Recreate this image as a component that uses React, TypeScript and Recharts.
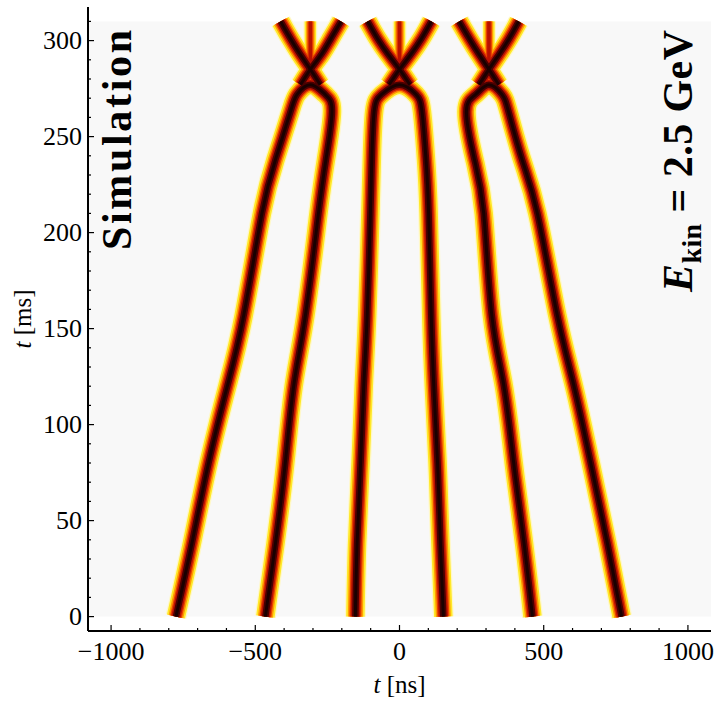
import React from "react";
import { LineChart, Line, XAxis, YAxis, ReferenceArea } from "recharts";

// t [ms] at which the bunch centres were read (bottom up to the merge)
const legT = [0, 38, 80, 120, 157, 210, 238, 263, 272, 277];

// bunch centres t [ns] at those times
const bunch1 = [-775, -720, -662, -597, -540, -477, -430, -378, -355, -309];
const bunch2 = [-465, -430, -396, -367, -326, -281, -255, -234, -258, -309];
const bunch3 = [-153, -147, -135, -124, -112, -101, -96, -88, -62, 0];
const bunch4 = [152, 142, 132, 119, 110, 101, 92, 78, 57, 0];
const bunch5 = [461, 432, 396, 362, 320, 292, 260, 232, 264, 310];
const bunch6 = [770, 721, 663, 605, 547, 478, 425, 378, 355, 310];

// after the merge: the crossing and the arms going up
const crossT = [310, 301, 293, 285, 277];
const arm1a = [-412, -378, -345, -309, -275];
const arm1b = [-203, -238, -270, -309, -343];
const arm2a = [-110, -76, -40, 0, 36];
const arm2b = [110, 76, 40, 0, -36];
const arm3a = [207, 242, 275, 310, 344];
const arm3b = [413, 380, 346, 310, 276];
const midT = [310, 285];
const midX = [-309, 0, 310];

const xMajor = [-1000, -500, 0, 500, 1000];
const yMajor = [0, 50, 100, 150, 200, 250, 300];
const xMinor = Array.from({ length: 21 }, (_, i) => -1000 + i * 100);
const yMinor = Array.from({ length: 32 }, (_, i) => i * 10);

const FONT = "'Liberation Serif', 'Times New Roman', serif";

const toPoints = (xs: number[], ts: number[]) => xs.map((x, i) => ({ x, t: ts[i] }));
const arch = (a: number[], b: number[]) => [
    ...toPoints(a, legT),
    ...toPoints(b, legT).reverse().slice(1),
];

const mainPaths = [
    arch(bunch1, bunch2),
    arch(bunch3, bunch4),
    arch(bunch5, bunch6),
    toPoints(arm1a, crossT),
    toPoints(arm1b, crossT),
    toPoints(arm2a, crossT),
    toPoints(arm2b, crossT),
    toPoints(arm3a, crossT),
    toPoints(arm3b, crossT),
];
const midPaths = midX.map((x) => toPoints([x, x], midT));

const mainLayers = [
    { color: "#fff8c8", width: 21 },
    { color: "#ffe828", width: 18.5 },
    { color: "#ff9a00", width: 15 },
    { color: "#e84000", width: 12 },
    { color: "#b81000", width: 9.5 },
    { color: "#4a0000", width: 6.5 },
    { color: "#1a0000", width: 3 },
];
const midLayers = [
    { color: "#fff8c8", width: 14 },
    { color: "#ffe828", width: 11.5 },
    { color: "#ff9a00", width: 8.5 },
    { color: "#e84000", width: 6 },
    { color: "#b81000", width: 3.5 },
];

const fmt = (v: number) => (v < 0 ? `\u2212${Math.abs(v)}` : `${v}`);

const AxisTick = (props: any) => {
    const { x, y, payload, side, majors, labelled } = props;
    const major = majors.includes(payload.value);
    const len = major ? 6 : 3;
    let line;
    if (side === "bottom") line = { x1: x, y1: y, x2: x, y2: y - len };
    else if (side === "top") line = { x1: x, y1: y, x2: x, y2: y + len };
    else if (side === "left") line = { x1: x, y1: y, x2: x + len, y2: y };
    else line = { x1: x, y1: y, x2: x - len, y2: y };
    const textStyle = { fontFamily: FONT, fontSize: 26 };
    return (
        <g>
            <line {...line} stroke="#000" strokeWidth={1.2} />
            {labelled && major && side === "bottom" && (
                <text x={x} y={y + 29} textAnchor="middle" style={textStyle} fill="#000">
                    {fmt(payload.value)}
                </text>
            )}
            {labelled && major && side === "left" && (
                <text x={x - 6} y={y + 8} textAnchor="end" style={textStyle} fill="#000">
                    {fmt(payload.value)}
                </text>
            )}
        </g>
    );
};

const XTitle = (props: any) => {
    const { x, y, width } = props.viewBox;
    return (
        <text
            x={x + width / 2}
            y={y + 62}
            textAnchor="middle"
            style={{ fontFamily: FONT, fontSize: 25 }}
            fill="#000"
        >
            <tspan fontStyle="italic">t</tspan> [ns]
        </text>
    );
};

const YTitle = (props: any) => {
    const { y, height } = props.viewBox;
    return (
        <text
            transform={`translate(31, ${y + height / 2}) rotate(-90)`}
            textAnchor="middle"
            style={{ fontFamily: FONT, fontSize: 25 }}
            fill="#000"
        >
            <tspan fontStyle="italic">t</tspan> [ms]
        </text>
    );
};

const axisLine = { stroke: "#000", strokeWidth: 2 };

const App = () => {
    const lines: React.ReactNode[] = [];
    mainLayers.forEach((layer, li) => {
        if (li < midLayers.length) {
            midPaths.forEach((pts, pi) => (
                lines.push(
                    <Line
                        key={`m${li}-${pi}`}
                        data={pts}
                        dataKey="t"
                        xAxisId="x"
                        yAxisId="y"
                        type="linear"
                        stroke={midLayers[li].color}
                        strokeWidth={midLayers[li].width}
                        dot={false}
                        activeDot={false}
                        isAnimationActive={false}
                    />
                )
            ));
        }
        mainPaths.forEach((pts, pi) => (
            lines.push(
                <Line
                    key={`p${li}-${pi}`}
                    data={pts}
                    dataKey="t"
                    xAxisId="x"
                    yAxisId="y"
                    type="natural"
                    stroke={layer.color}
                    strokeWidth={layer.width}
                    strokeLinejoin="round"
                    dot={false}
                    activeDot={false}
                    isAnimationActive={false}
                />
            )
        ));
    });

    return (
        <div style={{ position: "absolute", left: 0, top: 0, width: 715, height: 701, background: "#fff" }}>
            <LineChart width={715} height={701} margin={{ top: 7, right: 4, bottom: 0, left: 8 }}>
                <XAxis
                    xAxisId="x"
                    type="number"
                    dataKey="x"
                    domain={[-1080, 1080]}
                    allowDataOverflow
                    ticks={xMinor}
                    interval={0}
                    height={70}
                    tickSize={0}
                    tickMargin={0}
                    tickLine={false}
                    axisLine={axisLine}
                    tick={<AxisTick side="bottom" majors={xMajor} labelled />}
                    label={<XTitle />}
                />
                <XAxis
                    xAxisId="top"
                    orientation="top"
                    type="number"
                    domain={[-1080, 1080]}
                    allowDataOverflow
                    ticks={xMinor}
                    interval={0}
                    height={0}
                    tickSize={0}
                    tickMargin={0}
                    tickLine={false}
                    axisLine={axisLine}
                    tick={<AxisTick side="top" majors={xMajor} />}
                />
                <YAxis
                    yAxisId="y"
                    type="number"
                    domain={[-7.5, 317.5]}
                    allowDataOverflow
                    ticks={yMinor}
                    interval={0}
                    width={80}
                    tickSize={0}
                    tickMargin={0}
                    tickLine={false}
                    axisLine={axisLine}
                    tick={<AxisTick side="left" majors={yMajor} labelled />}
                    label={<YTitle />}
                />
                <YAxis
                    yAxisId="right"
                    orientation="right"
                    type="number"
                    domain={[-7.5, 317.5]}
                    allowDataOverflow
                    ticks={yMinor}
                    interval={0}
                    width={0}
                    tickSize={0}
                    tickMargin={0}
                    tickLine={false}
                    axisLine={axisLine}
                    tick={<AxisTick side="right" majors={yMajor} />}
                />
                <ReferenceArea
                    xAxisId="x"
                    yAxisId="y"
                    x1={-1080}
                    x2={1080}
                    y1={0}
                    y2={310}
                    fill="#f8f8f8"
                    fillOpacity={1}
                    stroke="none"
                />
                {lines}
            </LineChart>
            <svg
                width={715}
                height={701}
                style={{ position: "absolute", left: 0, top: 0, pointerEvents: "none" }}
            >
                <text
                    transform="translate(131, 250) rotate(-90)"
                    style={{ fontFamily: FONT, fontWeight: "bold", fontSize: 42 }}
                    textLength={220}
                    lengthAdjust="spacing"
                    fill="#000"
                >
                    Simulation
                </text>
                <text
                    transform="translate(692, 292) rotate(-90)"
                    style={{ fontFamily: FONT, fontWeight: "bold", fontSize: 42 }}
                    textLength={262}
                    lengthAdjust="spacing"
                    fill="#000"
                >
                    <tspan fontStyle="italic">E</tspan>
                    <tspan fontSize={28} dy={9}>kin</tspan>
                    <tspan dy={-9}> = 2.5 GeV</tspan>
                </text>
            </svg>
        </div>
    );
};

export default App;
